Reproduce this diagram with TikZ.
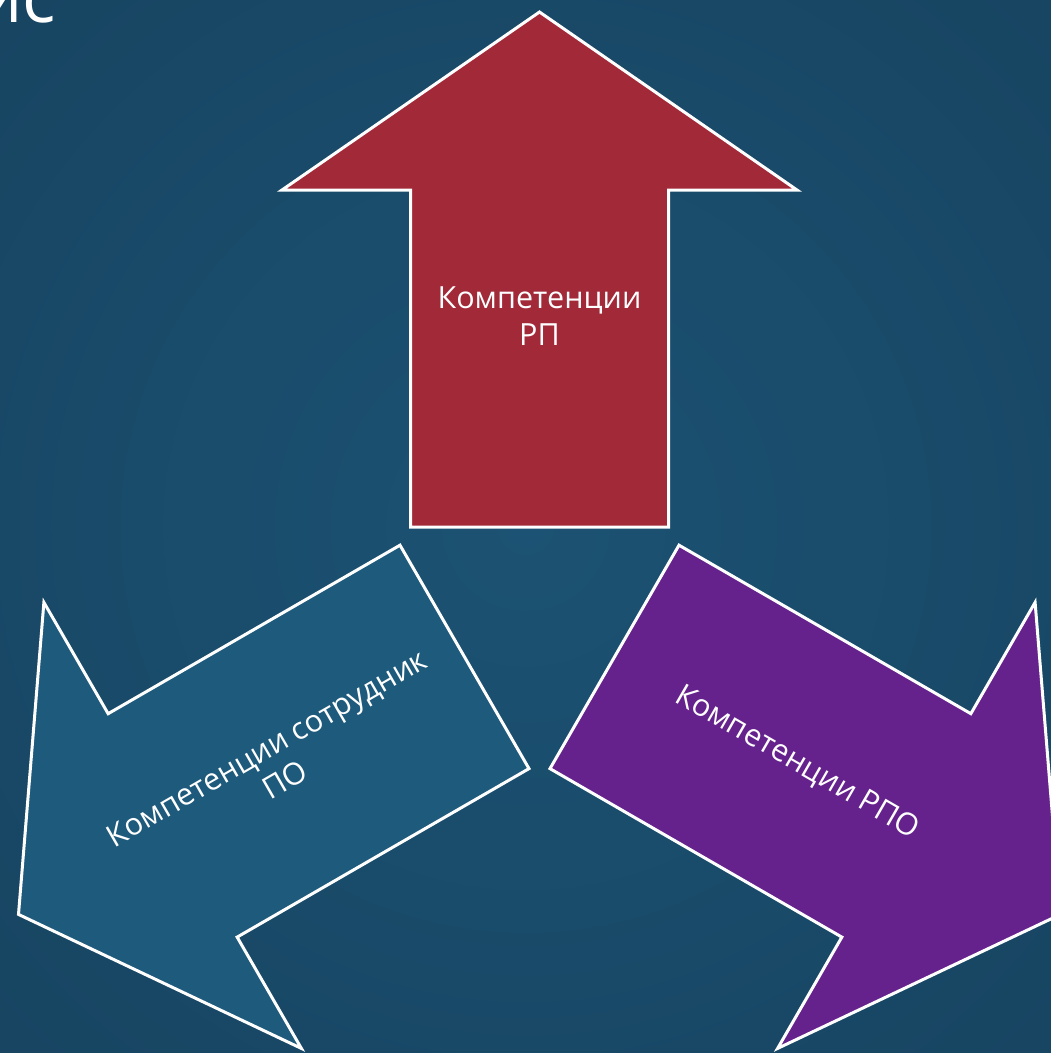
\documentclass[tikz,border=0pt]{standalone}
\usepackage{fontspec}
\setmainfont{Open Sans}
\definecolor{bgin}{HTML}{1C5273}
\definecolor{bgout}{HTML}{174562}
\definecolor{redfill}{HTML}{A12938}
\definecolor{bluefill}{HTML}{1E5A7C}
\definecolor{purplefill}{HTML}{65228D}
\tikzset{
  arrowline/.style={draw=white, line width=3pt, line join=miter},
  lbl/.style={text=white, align=center, inner sep=0pt, font=\fontsize{30.5}{37}\selectfont},
}
\def\ArrowPath{(539.5,-12) -- (797,-190) -- (668.5,-190) -- (668.5,-527) -- (410.5,-527) -- (410.5,-190) -- (282,-190) -- cycle}
\begin{document}
\begin{tikzpicture}[x=1pt,y=1pt]
\useasboundingbox (0,0) rectangle (1051,-1053);
\clip (0,0) rectangle (1051,-1053);
\shade[inner color=bgin, outer color=bgout] (-200,200) rectangle (1251,-1253);
\node[anchor=base east, text=white, inner sep=0pt, font=\fontsize{70}{80}\selectfont] (title) at (56,-22) {ис};
\draw[arrowline, fill=redfill] \ArrowPath;
\draw[arrowline, fill=bluefill, rotate around={120:(539.5,-613.6)}] \ArrowPath;
\draw[arrowline, fill=purplefill, rotate around={-120:(539.5,-613.6)}] \ArrowPath;
\node[lbl] (rp) at (539.5,-316) {Компетенции\\РП};
\node[lbl, rotate=30] (po) at (276,-764) {Компетенции сотрудник\\ПО};
\node[lbl, rotate=-30] (rpo) at (797,-763) {Компетенции РПО};
\end{tikzpicture}
\end{document}
